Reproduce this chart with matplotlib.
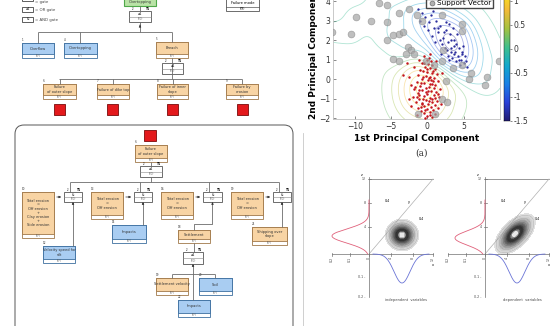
import numpy as np
import matplotlib
matplotlib.use("Agg")
import matplotlib.pyplot as plt
from matplotlib.patches import Rectangle, FancyBboxPatch
from matplotlib.colors import LinearSegmentedColormap, Normalize
from matplotlib.lines import Line2D

W, H = 555, 326

# ---------------- fault tree data ----------------
legend_syms = ["", "\u22651", "&"]
legend_texts = ["= gate", "= OR gate", "= AND gate"]
top_event = "Overtopping"
mode_box = ["Failure mode", "P(F)"]
level1 = ["Overflow", "Overtopping", "Breach"]
level1_kind = ["basic", "basic", "inter"]
level2 = ["Failure\nof outer slope", "Failure of dike top", "Failure of inner\nslope", "Failure by\nerosion"]
sub_top = "Failure\nof outer slope"
branch = ["Total erosion\n=\nOff erosion\n+\nClay erosion\n+\nSide erosion",
          "Total erosion\n=\nOff erosion", "Total erosion\n=\nOff erosion",
          "Total erosion\n=\nOff erosion"]
branch_child = ["Velocity speed for\nsilt", "Impacts", "Settlement", "Shipping over\nslope"]
branch_child_kind = ["basic", "basic", "inter", "inter"]
settle_children = ["Settlement velocity", "Soil", "Impacts"]
settle_kind = ["inter", "basic", "basic"]

# layout (pixel boxes x0, y0, x1, y1)
legend_pos = [(22, -3, 33, 1), (22, 7, 33, 12), (22, 17, 33, 22)]
top_pos = (124, -8, 156, 6)
mode_pos = (226, -4, 259, 11)
g0 = (129, 11, 151, 22)
level1_pos = [(22, 43, 54, 58), (64, 43, 97, 58), (156, 42, 188, 58)]
g1 = (162, 63, 183, 74)
level2_pos = [(43, 84, 76, 99), (97, 84, 129, 99), (157, 84, 188, 99), (226, 84, 258, 99)]
red_pos = [(54, 104, 65, 115), (107, 104, 118, 115), (167, 104, 178, 115), (237, 104, 248, 115)]
sub_red = (144, 130, 156, 141)
sub_top_pos = (135, 145, 167, 162)
g2 = (140, 166, 162, 177)
branch_pos = [(22, 192, 54, 238), (91, 192, 123, 219), (161, 192, 193, 219), (231, 192, 263, 219)]
branch_gate = [(64, 192, 82, 202), (134, 192, 152, 202), (203, 192, 222, 202), (273, 192, 291, 202)]
child_pos = [(43, 246, 75, 263), (112, 225, 146, 243), (178, 230, 210, 243), (252, 227, 287, 245)]
gs = (183, 252, 203, 264)
settle_pos = [(156, 278, 188, 295), (199, 278, 232, 295), (178, 300, 210, 317)]

# ---------------- scatter data ----------------
red_x = [-0.5, 0.2, -0.1, 0.5, -0.8, 0.1, 0.7, -0.3, 0.3, 1.0, -1.0, -0.6, 0.0, 0.6, 1.3, -1.3, -0.2, 0.4, 0.9, -0.8,
         0.1, 1.5, -1.5, -0.4, 0.7, 1.1, -1.0, 0.2, -0.2, 1.7, -1.8, -0.7, 0.5, 1.2, -1.3, 0.0, 0.9, -0.5, -2.0, 1.6,
         0.3, -1.1, 0.7, -0.2, 1.3, -1.6, -0.8, 0.1, 1.0, -0.4, 0.5, -1.3, 1.5, -0.1, 0.8, -0.9, 0.3, -0.5, 1.1, -1.5,
         0.0, 0.6, -0.3, -2.2, -2.5, -1.9, -2.8, -3.4, 2.0, -1.2, 0.4, -0.2, 0.9, -0.9, 0.2, -1.7, 1.4, -0.6, 0.3, -1.2,
         0.8, -0.4, 1.9, -2.3, 0.5, -0.1, 1.2, -2.6, -0.6, 0.1, -1.4, 0.6, -0.9, 1.0, -0.3, 0.4, -1.1, 0.2, -0.7, 0.8]
red_y = [1.2, 1.1, 0.95, 0.9, 0.8, 0.75, 0.7, 0.6, 0.55, 0.5, 0.45, 0.4, 0.35, 0.3, 0.25, 0.2, 0.15, 0.1, 0.05, 0.0,
         -0.05, -0.1, -0.15, -0.2, -0.25, -0.3, -0.35, -0.4, -0.45, -0.5, -0.5, -0.55, -0.6, -0.65, -0.7, -0.75, -0.8, -0.85, -0.9, -0.9,
         -0.95, -1.0, -1.05, -1.1, -1.15, -1.2, -1.25, -1.3, -1.35, -1.4, -1.45, -1.5, -1.5, -1.55, -1.6, -1.65, -1.7, -1.75, -1.8, -1.85,
         -1.9, -1.95, -2.0, -0.3, 0.1, 0.6, 0.8, 0.2, 0.3, 1.0, 1.3, -0.65, -0.45, -1.45, -1.15, -0.4, -0.75, 0.1, -0.25, -0.8,
         0.4, 0.8, -1.3, -1.4, -0.05, 0.5, 0.9, -1.0, -1.0, -0.6, -0.9, -1.2, -0.2, -0.95, -1.6, -1.85, -0.55, 0.05, -1.3, -0.1]
blue_x = [-1.3, -0.8, -1.0, -0.3, 0.2, 0.5, 0.9, 1.2, 0.6, 1.5, 1.8, 2.2, 2.6, 2.9, 3.1, 3.3, 3.6, 3.8, 4.0, 4.2,
          4.4, 4.6, 4.8, 5.0, 5.2, 5.5, 2.4, 2.8, 3.4, 3.9, 4.5, 3.0, 3.5, 2.0, 1.0, 1.7, 2.5, 4.1, 3.2, 3.7,
          4.3, 2.7, 3.0, 1.4, 0.1, -0.5, 5.3, 4.9, 2.3, 3.6, 4.7, 3.3, 1.9, 0.8]
blue_y = [3.6, 3.4, 3.0, 3.2, 2.9, 3.3, 2.6, 3.0, 2.2, 2.4, 2.7, 2.1, 2.5, 1.9, 2.3, 1.6, 2.0, 1.4, 1.8, 1.2,
          1.6, 1.0, 1.4, 0.8, 1.2, 0.6, 1.6, 1.2, 1.1, 0.9, 0.7, 2.8, 2.6, 1.8, 1.9, 2.0, 2.9, 2.3, 1.4, 1.7,
          0.95, 1.5, 1.0, 2.6, 2.5, 2.7, 0.9, 1.7, 2.4, 1.3, 1.3, 2.0, 1.3, 3.5]
sv_x = [-13.1, -9.8, -10.5, -7.7, -6.7, -5.6, -5.6, -5.6, -4.8, -3.9, -3.3, -3.9, -2.6, -2.7, -2.3, -3.0, -4.7, -1.8,
        -1.4, -0.7, 2.0, 4.7, 4.7, 2.1, 2.0, 3.5, 4.8, 6.0, 5.7, 8.2, 8.0, 9.8, 2.5, 2.0, 2.7, -1.3, 1.1, -3.9, -0.2, 0.9]
sv_y = [2.4, 3.2, 2.3, 3.0, 3.9, 3.8, 2.9, 2.0, 2.25, 2.3, 2.4, 3.4, 3.6, 1.65, 1.5, 1.3, 1.05, 1.3,
        3.3, 3.0, 3.3, 2.8, 2.46, 1.5, 0.9, 0.55, 0.72, 0.3, 0.0, 0.1, -0.3, 0.93, -0.1, -1.05, -1.2, -1.8, -1.8, 0.9, 0.9, 0.7]
cbar_ticks = [-1.5, -1, -0.5, 0, 0.5, 1]

# ---------------- density panel data ----------------
panel_origin_x = [369, 485]
panel_titles = ["independent  variables", "dependent  variables"]
red_peak = [(236, 37), (238, 30)]          # (centre y, amplitude)
blue_peak = [(33, 29), (32, 29)]           # (centre offset, amplitude)
blob_centre = [(402, 235), (515, 234)]
blob_sd = [(6.6, 6.2), (10.0, 5.2)]        # major, minor
blob_angle = [0, 45]

fig = plt.figure(figsize=(5.55, 3.26), dpi=100)
ax = fig.add_axes([0, 0, 1, 1])
ax.set_xlim(0, W)
ax.set_ylim(H, 0)
ax.axis("off")

LC = "#6b6b6b"
colors = {"basic": ("#a9cdf2", "#3d6f9f"), "inter": ("#f8d4a4", "#a0784a"),
          "top": ("#b9e3a6", "#4fa84a"), "white": ("white", "#555555")}


def line(pts, **kw):
    xs, ys = zip(*pts)
    ax.plot(xs, ys, color=LC, lw=0.6, solid_capstyle="butt", **kw)


def node(b, text, kind, num=None):
    x0, y0, x1, y1 = b
    fc, ec = colors[kind]
    sh = 4
    ax.add_patch(Rectangle((x0, y0), x1 - x0, y1 - y0, fc="white", ec=ec, lw=0.6))
    ax.add_patch(Rectangle((x0, y0), x1 - x0, y1 - y0 - sh, fc=fc, ec=ec, lw=0.6))
    ax.text((x0 + x1) / 2, (y0 + y1 - sh) / 2, text, fontsize=2.6, ha="center", va="center",
            linespacing=1.05, color="#333333")
    ax.text((x0 + x1) / 2, y1 - sh / 2, "P(F)", fontsize=1.8, ha="center", va="center", color="#555555")
    if num is not None:
        ax.text(x0, y0 - 0.8, str(num), fontsize=2.0, ha="left", va="bottom", color="#333333")


def gate(b, sym, arrow=True):
    x0, y0, x1, y1 = b
    ym = (y0 + y1) / 2
    ax.add_patch(Rectangle((x0, y0), x1 - x0, y1 - y0, fc="white", ec="#555555", lw=0.6))
    ax.plot([x0, x1], [ym, ym], color="#888888", lw=0.4)
    ax.text((x0 + x1) / 2, (y0 + ym) / 2, sym, fontsize=2.2, ha="center", va="center")
    ax.text((x0 + x1) / 2, (ym + y1) / 2, "P(G)", fontsize=1.8, ha="center", va="center", color="#555555")
    ax.text(x1 - 0.5, y0 - 0.3, "T1", fontsize=2.2, ha="right", va="bottom", fontweight="bold")
    ax.text(x0 + 3, y0 - 0.3, "2", fontsize=1.8, ha="left", va="bottom")
    if arrow:
        cx = (x0 + x1) / 2
        ax.annotate("", xy=(cx, y1), xytext=(cx, y1 + 5),
                    arrowprops=dict(arrowstyle="-|>", color="#333333", lw=0.5, mutation_scale=3))


def redsq(b):
    x0, y0, x1, y1 = b
    ax.add_patch(Rectangle((x0, y0), x1 - x0, y1 - y0, fc="#e3191c", ec="#7a0a0a", lw=0.6))


# legend of symbols
for b, s, t in zip(legend_pos, legend_syms, legend_texts):
    ax.add_patch(Rectangle((b[0], b[1]), b[2] - b[0], b[3] - b[1], fc="white", ec="#444444", lw=0.6))
    ax.text((b[0] + b[2]) / 2, (b[1] + b[3]) / 2, s, fontsize=2.2, ha="center", va="center")
    ax.text(b[2] + 2, max((b[1] + b[3]) / 2, 1.5), t, fontsize=2.8, ha="left", va="center", color="#444444")

# top event
x0, y0, x1, y1 = top_pos
ax.add_patch(Rectangle((x0, y0), x1 - x0, y1 - y0, fc=colors["top"][0], ec=colors["top"][1], lw=0.8))
ax.text((x0 + x1) / 2, 2.5, top_event, fontsize=2.6, ha="center", va="center", color="#333333")
x0, y0, x1, y1 = mode_pos
ax.add_patch(Rectangle((x0, y0), x1 - x0, y1 - y0, fc="white", ec="#555555", lw=0.6))
ax.plot([x0, x1], [7, 7], color="#555555", lw=0.5)
ax.text((x0 + x1) / 2, 3.5, mode_box[0], fontsize=2.6, ha="center", va="center")
ax.text((x0 + x1) / 2, 9, mode_box[1], fontsize=2.0, ha="center", va="center")

line([(140, 6), (140, 11)])
gate(g0, "\u22651", arrow=False)
ax.annotate("", xy=(140, 22), xytext=(140, 28),
            arrowprops=dict(arrowstyle="-|>", color="#333333", lw=0.5, mutation_scale=3))
line([(140, 22), (140, 32)])
line([(38, 32), (172, 32)])
for b, t, k, n in zip(level1_pos, level1, level1_kind, [1, 4, 5]):
    cx = (b[0] + b[2]) / 2 if k == "inter" else b[0] + 16
    line([(cx, 32), (cx, b[1])])
    node(b, t, k, n)

line([(172, 58), (172, 79)])
gate(g1, "\u22651", arrow=False)
line([(59, 79), (242, 79)])
for b, t, r, n in zip(level2_pos, level2, red_pos, [6, 7, 8, 9]):
    cx = (b[0] + b[2]) / 2
    line([(cx, 79), (cx, b[1])])
    node(b, t, "inter", n)
    redsq(r)

# bottom sub-tree
ax.add_patch(FancyBboxPatch((15, 125), 278, 210, boxstyle="round,pad=0,rounding_size=9",
                            fc="none", ec="#555555", lw=0.7))
redsq(sub_red)
node(sub_top_pos, sub_top, "inter", 6)
line([(151, 162), (151, 166)])
gate(g2, "\u22651", arrow=False)
line([(151, 177), (151, 182)])
line([(70, 182), (279, 182)])
for i, (b, gb, t) in enumerate(zip(branch_pos, branch_gate, branch)):
    line([(gb[0] + 6, 182), (gb[0] + 6, gb[1])])
    node(b, t, "inter", 10 + 3 * i)
    gate(gb, "&")
    ax.annotate("", xy=(gb[0], 197), xytext=(b[2], 197),
                arrowprops=dict(arrowstyle="-|>", color="#333333", lw=0.5, mutation_scale=3))

# children of branch gates
line([(73, 202), (73, child_pos[0][1])])
line([(143, 202), (143, child_pos[1][1])])
line([(212, 202), (212, 224), (194, 224), (194, child_pos[2][1])])
line([(282, 202), (282, child_pos[3][1])])
for b, t, k, n in zip(child_pos, branch_child, branch_child_kind, [12, 15, 18, 21]):
    node(b, t, k, n)

line([(194, 243), (194, 252)])
gate(gs, "\u22651")
line([(193, 264), (193, 300)])
line([(172, 274), (215, 274)])
line([(172, 274), (172, 278)])
line([(215, 274), (215, 278)])
for b, t, k, n in zip(settle_pos, settle_children, settle_kind, [19, 20, 22]):
    node(b, t, k, n)

# separator
ax.plot([303, 303], [133, 326], color="#c8c8c8", lw=0.6)

# ---------------- density panels ----------------
blob_cmap = LinearSegmentedColormap.from_list("blob", [(0.0, "#e4e4e4"), (0.35, "#8a8a8a"), (0.7, "#2c2c2c"),
                                                       (0.85, "#3c3c3c"), (0.93, "#9a9a9a"), (1.0, "#ffffff")])
for k, ox in enumerate(panel_origin_x):
    oy = 254
    kw = dict(color="#707070", lw=0.5)
    ax.plot([ox, ox], [177, 297], **kw)
    ax.plot([ox, ox + 64], [179, 179], **kw)
    ax.plot([ox, ox + 64], [oy, 179], color="#b0b0b0", lw=0.5)
    ax.plot([ox - 37, ox + 64], [oy, oy], **kw)
    for tx in [ox - 37, ox - 19, ox, ox + 22, ox + 44, ox + 64]:
        ax.plot([tx, tx], [oy - 1.5, oy + 1.5], **kw)
    for lab, tx in zip(["0.2", "0.1", "0", "4", "8", "12"], [ox - 37, ox - 19, ox, ox + 22, ox + 44, ox + 64]):
        ax.text(tx, oy + 3, lab, fontsize=2.3, rotation=90, ha="center", va="top", color="#444444")
    ax.text(ox + 64, oy + 11, "x", fontsize=2.5, ha="center", va="center")
    for lab, ty in zip(["12", "8", "4"], [179, 203, 227]):
        ax.plot([ox - 1.5, ox + 1.5], [ty, ty], **kw)
        ax.text(ox - 3, ty, lab, fontsize=2.3, ha="right", va="center", color="#444444")
    ax.text(ox - 6, 175, "z", fontsize=2.5, ha="right", va="center")
    for lab, ty in zip(["0.1", "0.2"], [277, 297]):
        ax.text(ox - 4, ty, lab + " -", fontsize=2.3, ha="right", va="center", color="#444444")
    ax.text(ox + 18, 201, "0.4", fontsize=2.3, ha="center", va="center")
    ax.text(ox + 40, 202, "y", fontsize=2.5, ha="center", va="center")
    ax.text(ox + 52, 219, "0.4", fontsize=2.3, ha="center", va="center")
    ax.text(ox + 37, 300, panel_titles[k], fontsize=2.6, ha="center", va="center", color="#444444")

    cy, amp = red_peak[k]
    yy = np.linspace(200, oy, 200)
    ax.plot(ox - amp * np.exp(-(yy - cy) ** 2 / (2 * 7.0 ** 2)), yy, color="#e0607a", lw=0.6)
    off, bamp = blue_peak[k]
    xx = np.linspace(ox + 4, ox + 60, 200)
    ax.plot(xx, oy + bamp * np.exp(-(xx - ox - off) ** 2 / (2 * 8.0 ** 2)), color="#6a74d6", lw=0.6)

    bx, by = blob_centre[k]
    s1, s2 = blob_sd[k]
    th = np.deg2rad(blob_angle[k])
    gx, gy = np.meshgrid(np.linspace(bx - 32, bx + 32, 200), np.linspace(by - 32, by + 32, 200))
    dx, dy = gx - bx, gy - by
    u = dx * np.cos(th) - dy * np.sin(th)
    v = dx * np.sin(th) + dy * np.cos(th)
    dens = np.exp(-0.5 * ((u / s1) ** 2 + (v / s2) ** 2))
    ax.contourf(gx, gy, dens, levels=np.linspace(0.04, 1.0, 30), cmap=blob_cmap)
    ax.contour(gx, gy, dens, levels=np.linspace(0.06, 0.7, 8), colors="#555555", linewidths=0.15, alpha=0.6)

# ---------------- scatter / SVM plot ----------------
parula = LinearSegmentedColormap.from_list("parula", [
    (0.13, 0.11, 0.45), (0.16, 0.25, 0.85), (0.10, 0.50, 0.90), (0.07, 0.66, 0.80),
    (0.25, 0.75, 0.55), (0.65, 0.76, 0.25), (0.95, 0.73, 0.22), (0.98, 0.90, 0.10)])
norm = Normalize(-1.5, 1.2)

sax = fig.add_axes([333 / W, (H - 119) / H, 167 / W, (119 + 8.75) / H])
gx, gy = np.meshgrid(np.linspace(-13, 10, 230), np.linspace(-2.05, 4.5, 130))


def kern(px, py, s):
    px = np.asarray(px)[None, None, :] / 3.0
    py = np.asarray(py)[None, None, :]
    d2 = (gx[..., None] / 3.0 - px) ** 2 + (gy[..., None] - py) ** 2
    return np.exp(-d2 / (2 * s * s)).sum(-1)


kr = kern(red_x, red_y, 0.9)
kb = kern(blue_x, blue_y, 0.8)
ks = kern(sv_x, sv_y, 0.45)
field = 1.3 * kr / kr.max() - 1.6 * kb / kb.max() - 0.35 * ks / ks.max() + 0.05
sax.contour(gx, gy, field, levels=np.arange(-1.4, 1.3, 0.2), cmap=parula, norm=norm,
            linewidths=0.6, alpha=0.4)
sax.scatter(red_x, red_y, s=3.2, c="#c4161c", linewidths=0, zorder=3)
sax.scatter(blue_x, blue_y, s=2.8, c="#2b2d9c", linewidths=0, zorder=3)
sax.scatter(sv_x, sv_y, s=24, facecolors="#a4a4a4", edgecolors="#8a8a8a", linewidths=0.5, alpha=0.7, zorder=4)
sax.set_xlim(-13, 10)
sax.set_ylim(-2.05, 4.5)
sax.set_xticks([-10, -5, 0, 5])
sax.set_yticks([-2, -1, 0, 1, 2, 3, 4])
sax.tick_params(labelsize=5.5, length=2, direction="in", width=0.4, pad=2, colors="#333333")
for sp in sax.spines.values():
    sp.set_color("#c0c0c0")
    sp.set_linewidth(0.6)
sax.set_xlabel("1st Principal Component", fontsize=6.5, labelpad=2, fontweight="bold")
sax.set_ylabel("2nd Principal Component", fontsize=6.5, labelpad=1, fontweight="bold")
h = Line2D([], [], marker="o", ls="none", markersize=3.5, markerfacecolor="#b0b0b0", markeredgecolor="#707070",
           markeredgewidth=0.5)
sax.legend([h], ["Support Vector"], loc="upper right", bbox_to_anchor=(0.958, 0.94), fontsize=5.2,
           fancybox=False, edgecolor="#444444", framealpha=1, borderpad=0.2, handletextpad=0.3,
           borderaxespad=0, handlelength=1.0)

cax = fig.add_axes([504 / W, (H - 121) / H, 5.5 / W, (121 + 8.6) / H])
cb = fig.colorbar(plt.cm.ScalarMappable(norm=norm, cmap=parula), cax=cax, ticks=cbar_ticks)
cb.outline.set_linewidth(0.3)
cax.tick_params(labelsize=5.5, length=1.5, width=0.4, pad=1.5, colors="#333333")
cax.set_yticklabels(["-1.5", "-1", "-0.5", "0", "0.5", "1"])

ax.text(422, 153, "(a)", fontsize=6.5, ha="center", va="center", family="DejaVu Serif", color="#333333")

fig.savefig("out.png", dpi=100)
